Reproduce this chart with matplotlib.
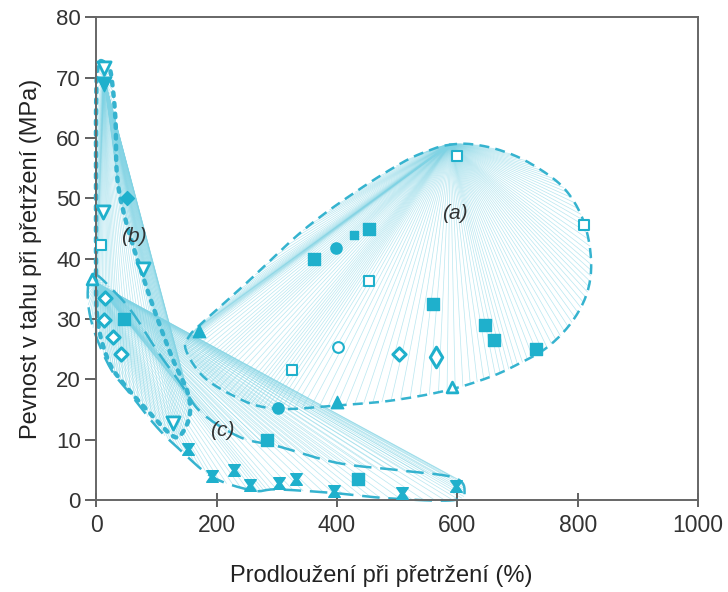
import numpy as np
import matplotlib.pyplot as plt
from matplotlib.path import Path

plt.rcParams['font.family'] = ['Liberation Sans', 'DejaVu Sans']

# --- boundary control points of the three regions ---
bound_a_x = [583, 620, 670, 721, 776, 809, 822, 816, 790, 749, 700, 654, 583, 490, 400, 317, 270, 234, 190, 165, 148, 155, 172, 250, 344, 430, 510, 555]
bound_a_y = [58.8, 59.0, 58.0, 55.8, 51.8, 46.4, 40, 34.5, 29.5, 25.3, 22.5, 20.4, 18.2, 16.5, 15.7, 15.1, 15.6, 17, 19.5, 22, 25.3, 27.2, 29, 36, 44.7, 51, 56, 58]
apex_a = (588, 59)

bound_b_x = [15, 24, 32, 35, 50, 78, 101, 128, 151, 156, 145, 128, 85, 45, 20, 2, 0, 0, 0, 3]
bound_b_y = [72.4, 71, 63.4, 53.5, 46, 37, 30.3, 23.2, 18.2, 14.5, 11.4, 10.6, 14.9, 19.4, 23.2, 30.3, 42, 55, 65, 72]
apex_b = (13, 70)

bound_c_x = [-5, 28, 61, 101, 140, 175, 240, 300, 400, 500, 593, 612, 593, 488, 394, 300, 261, 194, 140, 101, 56, 23, -5, -14]
bound_c_y = [37.5, 34.8, 31, 24.8, 19.4, 14.5, 10.4, 9, 6.2, 5, 3.8, 1.6, 0, 0.3, 1.2, 1.8, 1.6, 3.8, 8.3, 12.1, 17.7, 22, 28.6, 34]
apex_c = (0, 36)

# --- markers ---
open_sq_x = [600, 810, 453, 326, 8]
open_sq_y = [57, 45.5, 36.3, 21.5, 42.3]
fill_sq_x = [362, 453, 560, 646, 661, 731, 46, 284, 435]
fill_sq_y = [40, 45, 32.5, 29, 26.5, 25, 30, 9.9, 3.5]
small_sq_x = [428]
small_sq_y = [44]
fill_circ_x = [399, 302]
fill_circ_y = [41.7, 15.2]
open_circ_x = [402]
open_circ_y = [25.3]
open_dia_x = [503, 15, 13, 28, 41]
open_dia_y = [24.3, 33.5, 29.8, 27, 24.3]
thin_dia_x = [565]
thin_dia_y = [23.8]
fill_dia_x = [51]
fill_dia_y = [50]
open_tri_x = [591, -6]
open_tri_y = [18.8, 36.6]
fill_tri_x = [400, 171]
fill_tri_y = [16.3, 28]
down_tri_x = [13, 12, 78, 128]
down_tri_y = [71.5, 47.8, 38.3, 12.8]
fill_down_x = [13]
fill_down_y = [69]
hour_x = [153, 193, 229, 256, 304, 332, 395, 508, 598]
hour_y = [8.5, 4, 5, 2.5, 2.8, 3.6, 1.5, 1.2, 2.3]

C = '#1fb0cc'
LINE = '#35b3cf'
RAY = '#7fd3e4'


def smooth_closed(xs, ys, n=12):
    # periodic Catmull-Rom through the control points
    p = np.column_stack([xs, ys]).astype(float)
    m = len(p)
    out = []
    for i in range(m):
        p0, p1, p2, p3 = p[i - 1], p[i], p[(i + 1) % m], p[(i + 2) % m]
        for t in np.linspace(0, 1, n, endpoint=False):
            t2, t3 = t * t, t * t * t
            out.append(0.5 * ((2 * p1) + (-p0 + p2) * t + (2 * p0 - 5 * p1 + 4 * p2 - p3) * t2
                              + (-p0 + 3 * p1 - 3 * p2 + p3) * t3))
    out.append(out[0])
    return np.array(out)


fig = plt.figure(figsize=(7.28, 5.92), dpi=100)
ax = fig.add_axes([0.132, 0.155, 0.827, 0.816])

regions = [
    (bound_a_x, bound_a_y, apex_a, dict(ls=(0, (4, 2.5)), lw=1.8)),
    (bound_b_x, bound_b_y, apex_b, dict(ls=(0, (0.8, 1.6)), lw=3.2, dash_capstyle='round')),
    (bound_c_x, bound_c_y, apex_c, dict(ls=(0, (7, 3.5)), lw=1.8)),
]
for bx, by, apex, style in regions:
    curve = smooth_closed(bx, by)
    for px, py in curve[::2]:
        ax.plot([apex[0], px], [apex[1], py], color=RAY, lw=0.5, alpha=0.55, zorder=1, clip_on=False)
    ax.plot(curve[:, 0], curve[:, 1], color=LINE, zorder=2, clip_on=False, **style)

ax.scatter(open_sq_x, open_sq_y, marker='s', s=60, facecolors='white', edgecolors=C, linewidths=1.5, zorder=4)
ax.scatter(fill_sq_x, fill_sq_y, marker='s', s=80, color=C, zorder=4)
ax.scatter(small_sq_x, small_sq_y, marker='s', s=30, color=C, zorder=4)
ax.scatter(fill_circ_x, fill_circ_y, marker='o', s=65, color=C, zorder=4)
ax.scatter(open_circ_x, open_circ_y, marker='o', s=60, facecolors='white', edgecolors=C, linewidths=1.5, zorder=4)
ax.scatter(open_dia_x, open_dia_y, marker='D', s=45, facecolors='white', edgecolors=C, linewidths=2.2, zorder=4)
ax.scatter(thin_dia_x, thin_dia_y, marker='d', s=110, facecolors='white', edgecolors=C, linewidths=2.2, zorder=4)
ax.scatter(fill_dia_x, fill_dia_y, marker='D', s=50, color=C, zorder=4)
ax.scatter(open_tri_x, open_tri_y, marker='^', s=60, facecolors='white', edgecolors=C, linewidths=2, zorder=4, clip_on=False)
ax.scatter(fill_tri_x, fill_tri_y, marker='^', s=80, color=C, zorder=4)
ax.scatter(down_tri_x, down_tri_y, marker='v', s=90, facecolors='white', edgecolors=C, linewidths=2, zorder=4)
ax.scatter(fill_down_x, fill_down_y, marker='v', s=110, color=C, zorder=4)
hourglass = Path([(-1, 1), (1, 1), (0.3, 0), (1, -1), (-1, -1), (-0.3, 0), (-1, 1)],
                 [1, 2, 2, 2, 2, 2, 79])
ax.scatter(hour_x, hour_y, marker=hourglass, s=70, color=C, zorder=4)

ax.text(596, 47.5, '(a)', fontsize=15, style='italic', color='#333333', ha='center', va='center')
ax.text(62, 43.7, '(b)', fontsize=15, style='italic', color='#333333', ha='center', va='center')
ax.text(209, 11.6, '(c)', fontsize=15, style='italic', color='#333333', ha='center', va='center')

ax.set_xlim(0, 1000)
ax.set_ylim(0, 80)
ax.set_xticks(range(0, 1001, 200))
ax.set_yticks(range(0, 81, 10))
ax.tick_params(axis='x', direction='inout', length=10, width=1.3, labelsize=16.5, colors='#555555',
               labelcolor='#333333', pad=5)
ax.tick_params(axis='y', direction='out', length=8, width=1.3, labelsize=16, colors='#555555',
               labelcolor='#333333', pad=3)
for sp in ax.spines.values():
    sp.set_color('#666666')
    sp.set_linewidth(1.4)
ax.set_xlabel('Prodloužení při přetržení (%)', fontsize=17, color='#222222')
ax.xaxis.set_label_coords(0.473, -0.135)
ax.set_ylabel('Pevnost v tahu při přetržení (MPa)', fontsize=17, color='#222222', labelpad=10)

fig.savefig('out.png', dpi=100)
